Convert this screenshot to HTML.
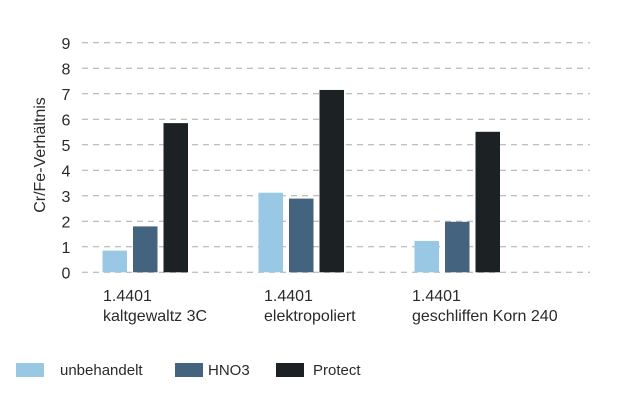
<!DOCTYPE html>
<html><head><meta charset="utf-8"><style>
body{margin:0;background:#fff;}
svg text{font-family:"Liberation Sans",sans-serif;fill:#2a2a2a;}
</style></head><body>
<svg width="620" height="406" viewBox="0 0 620 406">
<g id="grid"></g><g id="bars"></g><g id="labels"></g>
<text transform="translate(45,155) rotate(-90)" text-anchor="middle" font-size="16">Cr/Fe-Verhältnis</text>
<g font-size="15">
<rect x="16" y="363" width="28" height="14" fill="#98c8e3"/>
<text x="60" y="375">unbehandelt</text>
<rect x="175" y="363" width="28" height="14" fill="#44637e"/>
<text x="208" y="375">HNO3</text>
<rect x="276" y="363" width="28" height="14" fill="#1c2124"/>
<text x="313" y="375">Protect</text>
</g>
</svg>
<script>
const categories=[["1.4401","kaltgewaltz 3C"],["1.4401","elektropoliert"],["1.4401","geschliffen Korn 240"]];
const unbehandelt=[0.85,3.12,1.23];
const hno3=[1.8,2.89,1.98];
const protect=[5.85,7.15,5.51];
const yTicks=[0,1,2,3,4,5,6,7,8,9];
const NS="http://www.w3.org/2000/svg";
const y=v=>272.3-v*25.5;
const groupX=i=>102.5+i*156;
const grid=document.getElementById('grid'),bars=document.getElementById('bars'),labels=document.getElementById('labels');
yTicks.forEach(t=>{
 const l=document.createElementNS(NS,'line');
 
 
 l.setAttribute('x1',82);l.setAttribute('x2',590);l.setAttribute('y1',y(t));l.setAttribute('y2',y(t));
 l.setAttribute('stroke','#aaa');l.setAttribute('stroke-dasharray','6,5');l.setAttribute('stroke-width','1');
 grid.appendChild(l);
 const tx=document.createElementNS(NS,'text');
 
 
 tx.setAttribute('x',66);tx.setAttribute('y',y(t)+6);tx.setAttribute('font-size','16');tx.setAttribute('text-anchor','middle');
 tx.textContent=t;grid.appendChild(tx);
});
const series=[[unbehandelt,'#98c8e3','unbehandelt'],[hno3,'#44637e','hno3'],[protect,'#1c2124','protect']];
categories.forEach((c,i)=>{
 series.forEach((s,j)=>{
  const r=document.createElementNS(NS,'rect');
  
  
  r.setAttribute('x',groupX(i)+j*30.5);r.setAttribute('width',24.5);
  r.setAttribute('y',y(s[0][i]));r.setAttribute('height',y(0)-y(s[0][i]));
  r.setAttribute('fill',s[1]);bars.appendChild(r);
 });
 c.forEach((line,k)=>{
  const t=document.createElementNS(NS,'text');
  
  
  t.setAttribute('x',[103,264,412][i]);t.setAttribute('y',301+k*20);t.setAttribute('font-size','16');
  t.textContent=line;labels.appendChild(t);
 });
});
</script>
</body></html>
